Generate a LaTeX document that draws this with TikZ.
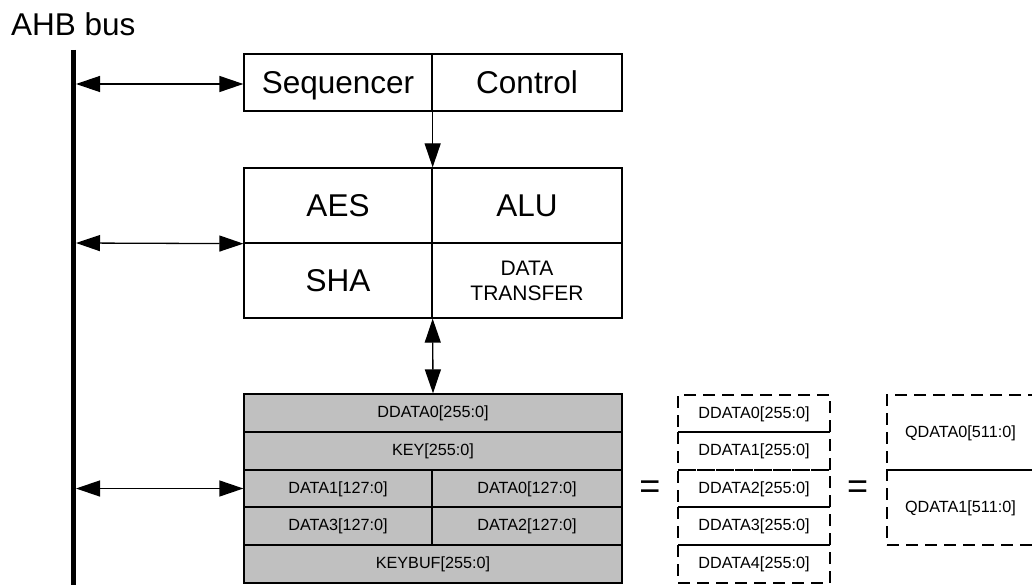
\documentclass[tikz,border=0pt]{standalone}
\usepackage{fontspec}
\setmainfont{Liberation Sans}
\usetikzlibrary{arrows.meta}
\begin{document}
\begin{tikzpicture}[x=1pt,y=-1pt,
  cell/.style args={#1x#2}{draw,line width=1.3pt,inner sep=0pt,minimum width=#1pt,minimum height=#2pt},
  reg/.style={fill=regfill},
  dcell/.style={dashed,dash pattern=on 12pt off 7pt},
  qbox/.style={draw,line width=1.3pt,dash pattern=on 12pt off 7pt,inner ysep=0pt,inner xsep=18pt,text width=117pt,align=left,minimum height=75pt},
  bigf/.style={font=\fontsize{31.5}{36}\selectfont,text height=22.5pt,text depth=0pt},
  midf/.style={font=\fontsize{21}{25}\selectfont},
  smallf/.style={font=\fontsize{16.2}{19}\selectfont,text height=11.6pt,text depth=2.5pt},
  eqf/.style={font=\fontsize{36}{40}\selectfont,inner sep=0pt},
  arr/.style={line width=1.3pt,-{Triangle[length=24pt,width=16pt]}},
  darr/.style={line width=1.3pt,{Triangle[length=24pt,width=16pt]}-{Triangle[length=24pt,width=16pt]}},
]
\definecolor{regfill}{HTML}{C0C0C0}
\clip (0,0) rectangle (1032,585);

% bus
\node[font=\fontsize{31.5}{36}\selectfont,anchor=base west,inner sep=0pt] (title) at (11,35.5) {AHB bus};
\coordinate (bustop) at (73.5,50);
\coordinate (busbot) at (73.5,592);
\draw[line width=5pt] (bustop) -- (busbot);

% top
\node[cell=188x57,bigf] (seq) at (338,82.5) {Sequencer};
\node[cell=190x57,bigf] (ctrl) at (527,82.5) {Control};

% middle
\node[cell=188x75,bigf] (aes) at (338,205.5) {AES};
\node[cell=190x75,bigf] (alu) at (527,205.5) {ALU};
\node[cell=188x75,bigf] (sha) at (338,280.5) {SHA};
\node[cell=190x75,midf,align=center] (dt) at (527,280.5) {DATA\\TRANSFER};

% registers
\node[cell=378x38,reg,smallf] (dd0) at (433,413) {DDATA0[255:0]};
\node[cell=378x38,reg,smallf] (key) at (433,451) {KEY[255:0]};
\node[cell=188x37,reg,smallf] (d1) at (338,488.5) {DATA1[127:0]};
\node[cell=190x37,reg,smallf] (d0) at (527,488.5) {DATA0[127:0]};
\node[cell=188x38,reg,smallf] (d3) at (338,526) {DATA3[127:0]};
\node[cell=190x38,reg,smallf] (d2) at (527,526) {DATA2[127:0]};
\node[cell=378x38,reg,smallf] (kb) at (433,564) {KEYBUF[255:0]};

% equals
\node[eqf] (eq1) at (650,490) {=};
\node[eqf] (eq2) at (857.5,490) {=};

% dashed ddata
\node[cell=152x37,dcell,smallf] (dd0b) at (754,413.5) {DDATA0[255:0]};
\node[cell=152x38,dcell,smallf] (dd1b) at (754,451) {DDATA1[255:0]};
\node[cell=152x37,dcell,smallf] (dd2b) at (754,488.5) {DDATA2[255:0]};
\node[cell=152x38,dcell,smallf] (dd3b) at (754,526) {DDATA3[255:0]};
\node[cell=152x38,dcell,smallf] (dd4b) at (754,564) {DDATA4[255:0]};

% qdata
\node[qbox,smallf] (q0) at (963.5,432.5) {QDATA0[511:0]};
\node[qbox,smallf] (q1) at (963.5,507.5) {QDATA1[511:0]};

% connectors
\coordinate (b1) at (76,84);
\coordinate (b2) at (76,243);
\coordinate (b3) at (76,488.5);
\draw[darr] (b1) -- (seq.west |- b1);
\draw[darr] (b2) -- (aes.south west);
\draw[darr] (b3) -- (d1.west);
\draw[arr] (seq.south east) -- (aes.north east);
\draw[darr] (sha.south east) -- (dd0.north);
\end{tikzpicture}
\end{document}
